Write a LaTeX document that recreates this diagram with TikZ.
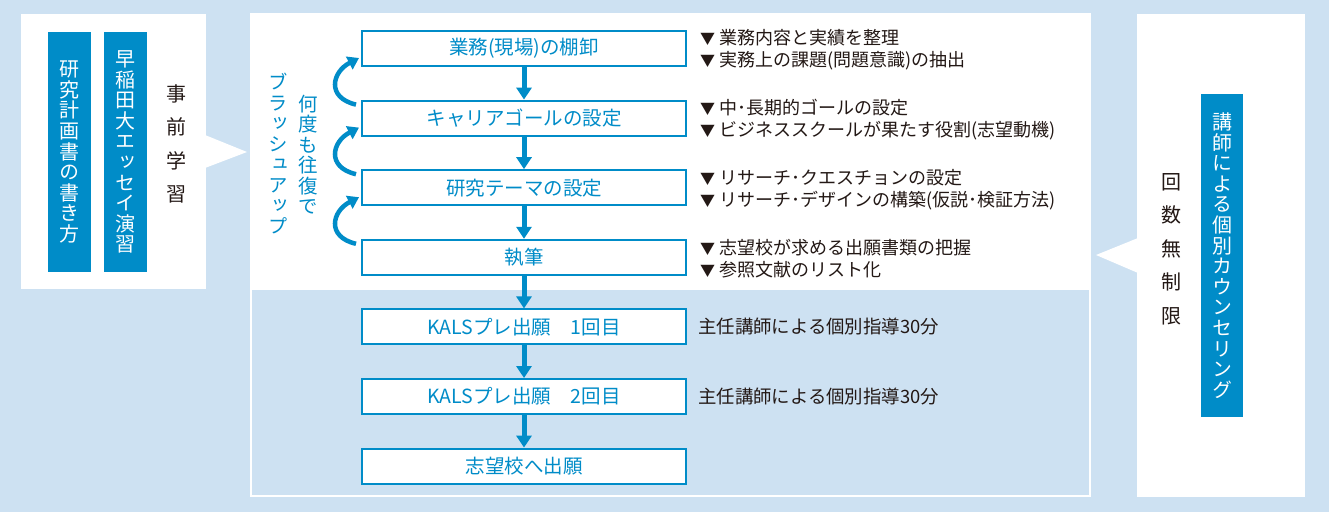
\documentclass[tikz,border=0pt]{standalone}
\usepackage{fontspec}
\setmainfont{Noto Sans CJK JP}
\newfontfamily\vertfont[RawFeature=+vert]{Noto Sans CJK JP}
\usetikzlibrary{positioning,arrows.meta}
\definecolor{kalsblue}{RGB}{0,140,200}
\definecolor{panelblue}{RGB}{205,225,242}
\definecolor{inkblack}{RGB}{35,24,21}
\newcommand\tri{{\fontsize{15}{15}\selectfont ▼}\ }
\tikzset{
  flowbox/.style={draw=kalsblue, line width=2pt, fill=white, minimum width=324pt,
    minimum height=35pt, inner sep=0pt, text=kalsblue, font=\fontsize{19.5}{20}\selectfont},
  flowarrow/.style={kalsblue, line width=5pt, -{Triangle[width=15pt,length=12pt]}},
  backarrow/.style={kalsblue, line width=4.5pt, -{Triangle[width=14pt,length=11pt]}},
  vbar/.style={fill=kalsblue, text=white, inner sep=0pt, align=center,
    font=\vertfont\fontsize{20}{20.6}\selectfont},
  vlabel/.style={inner sep=0pt, align=center, text=inkblack, font=\vertfont\fontsize{20}{33.5}\selectfont},
  vblue/.style={inner sep=0pt, align=center, text=kalsblue, font=\vertfont\fontsize{19.5}{20.5}\selectfont},
  notes/.style={inner sep=0pt, align=left, text=inkblack, font=\fontsize{18}{22}\selectfont}
}
\begin{document}
\begin{tikzpicture}[x=1pt,y=-1pt]
\useasboundingbox (0,0) rectangle (1329,512);
\fill[panelblue] (0,0) rectangle (1329,512);

% left panel
\fill[white] (21,14) rectangle (206,289);
\fill[white] (205,135) -- (247,152) -- (205,168) -- cycle;
\node[vbar, minimum width=43pt, minimum height=240pt] (plan) at (69.5,152)
  {研\\究\\計\\画\\書\\の\\書\\き\\方};
\node[vbar, minimum width=43pt, minimum height=240pt] (essay) at (125.5,152)
  {早\\稲\\田\\大\\エ\\ッ\\セ\\イ\\演\\習};
\node[vlabel] (prestudy) at (176,144) {事\\前\\学\\習};

% centre panel
\fill[white] (250,13) rectangle (1091,497);
\fill[panelblue] (252,290) rectangle (1089,495);

\node[flowbox] (b1) at (524,48.5) {業務(現場)の棚卸};
\node[flowbox, below=32.6pt of b1] (b2) {キャリアゴールの設定};
\node[flowbox, below=32.6pt of b2] (b3) {研究テーマの設定};
\node[flowbox, below=32.6pt of b3] (b4) {執筆};
\node[flowbox, below=32.6pt of b4] (b5) {KALSプレ出願\quad 1回目};
\node[flowbox, below=32.6pt of b5] (b6) {KALSプレ出願\quad 2回目};
\node[flowbox, below=32.6pt of b6] (b7) {志望校へ出願};

\foreach \a/\b in {b1/b2,b2/b3,b3/b4,b4/b5,b5/b6,b6/b7}
  \draw[flowarrow] (\a) -- (\b);
\foreach \a/\b in {b1/b2,b2/b3,b3/b4}
  \draw[backarrow] ([shift={(-5,5)}]\b.north west) .. controls +(-30,-7) and +(-27,14) .. ([shift={(-2,-9)}]\a.south west);

\node[vblue] (brushup) at (278,153.5) {ブ\\ラ\\ッ\\シ\\ュ\\ア\\ッ\\プ};
\node[vblue] (repeat) at (308,154.5) {何\\度\\も\\往\\復\\で};

\node[notes, right=13pt of b1, yshift=-1.5pt] (n1) {\tri 業務内容と実績を整理\\\tri 実務上の課題(問題意識)の抽出};
\node[notes, right=13pt of b2, yshift=-1.5pt] (n2) {\tri 中･長期的ゴールの設定\\\tri ビジネススクールが果たす役割(志望動機)};
\node[notes, right=13pt of b3, yshift=-1.5pt] (n3) {\tri リサーチ･クエスチョンの設定\\\tri リサーチ･デザインの構築(仮説･検証方法)};
\node[notes, right=13pt of b4, yshift=-1.5pt] (n4) {\tri 志望校が求める出願書類の把握\\\tri 参照文献のリスト化};
\node[notes, right=11pt of b5, font=\fontsize{18.4}{22}\selectfont] (n5) {主任講師による個別指導30分};
\node[notes, right=11pt of b6, font=\fontsize{18.4}{22}\selectfont] (n6) {主任講師による個別指導30分};

% right panel
\fill[white] (1137,14) rectangle (1305,497);
\fill[white] (1138,238) -- (1096,255) -- (1138,273) -- cycle;
\node[vbar, minimum width=42pt, minimum height=323pt] (counsel) at (1222,255.5)
  {講\\師\\に\\よ\\る\\個\\別\\カ\\ウ\\ン\\セ\\リ\\ン\\グ};
\node[vlabel] (unlimited) at (1171,249) {回\\数\\無\\制\\限};
\end{tikzpicture}
\end{document}
